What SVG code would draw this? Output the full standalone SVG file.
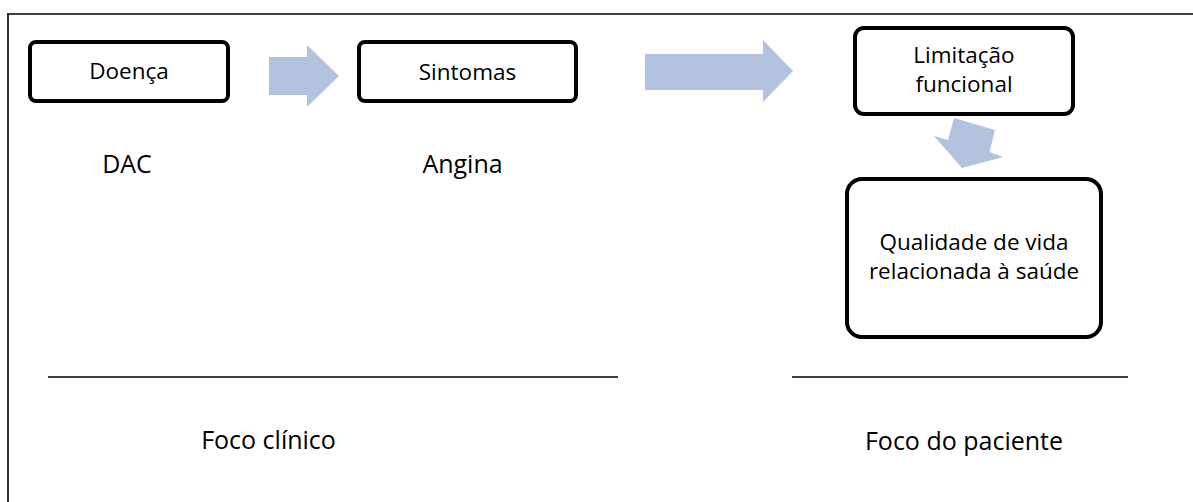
<svg xmlns="http://www.w3.org/2000/svg" width="1193" height="502" viewBox="0 0 1193 502">
<style>
.box{fill:#fff;stroke:#000;stroke-width:4}
.t{font-family:"Open Sans","Liberation Sans",sans-serif;fill:#000;text-anchor:middle}
.in{font-size:22.5px}
.out{font-size:25px}
.arr{fill:#B3C2DE;stroke:none}
.rule{stroke:#000;stroke-width:1.6}
</style>
<rect width="1193" height="502" fill="#fff"/>
<g id="frame">
<line class="rule" x1="7" y1="14" x2="1193" y2="14"/>
<line class="rule" x1="8" y1="14" x2="8" y2="502"/>
</g>
<g id="connectors">
<polygon class="arr" points="269,57 307,57 307,45 339,76 307,107 307,95 269,95"/>
<polygon class="arr" points="645,54 763,54 763,40 793,71 763,102 763,90 645,90"/>
<polygon class="arr" points="954,118 995,130 989.5,152 1003,157 962,168 934,136 948,140"/>
</g>
<g id="doenca">
<rect class="box" x="30" y="42" width="198" height="59" rx="6"/>
<text class="t in" x="129" y="79">Doença</text>
</g>
<g id="sintomas">
<rect class="box" x="359" y="42" width="217" height="59" rx="6"/>
<text class="t in" x="467.5" y="80">Sintomas</text>
</g>
<g id="limitacao">
<rect class="box" x="855" y="28" width="218" height="86" rx="9"/>
<text class="t in" x="964" y="63">Limitação</text>
<text class="t in" x="964" y="92">funcional</text>
</g>
<g id="qualidade">
<rect class="box" x="847" y="179" width="254" height="158" rx="15"/>
<text class="t in" x="974" y="250">Qualidade de vida</text>
<text class="t in" x="974" y="279">relacionada à saúde</text>
</g>
<g id="dac"><text class="t out" x="127" y="173">DAC</text></g>
<g id="angina"><text class="t out" x="462.5" y="173">Angina</text></g>
<g id="foco-clinico">
<line class="rule" x1="48" y1="377" x2="618" y2="377"/>
<text class="t out" x="268.5" y="449">Foco clínico</text>
</g>
<g id="foco-paciente">
<line class="rule" x1="792" y1="377" x2="1128" y2="377"/>
<text class="t out" x="964" y="450">Foco do paciente</text>
</g>
</svg>
